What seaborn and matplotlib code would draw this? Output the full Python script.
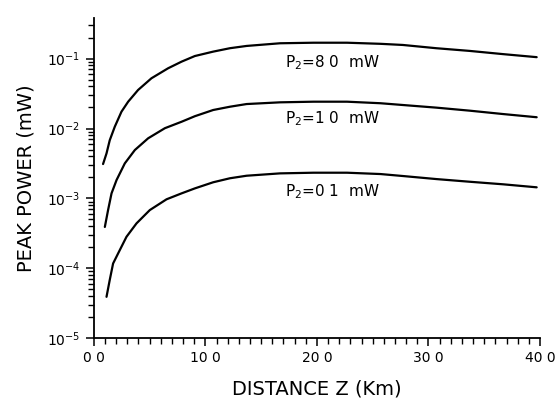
import numpy as np
import pandas as pd
import matplotlib
matplotlib.use("Agg")
import matplotlib.pyplot as plt
import seaborn as sns

# ---- data ----
z_80 = [0.83, 1.14, 1.43, 1.88, 2.48, 3.08, 3.97, 5.17, 6.66, 7.87, 9.06, 10.7,
        12.2, 13.7, 16.7, 19.7, 22.7, 25.7, 27.7, 30.7, 33.7, 36.7, 39.7]
p_80 = [3.1e-3, 4.4e-3, 6.8e-3, 1.06e-2, 1.74e-2, 2.42e-2, 3.56e-2, 5.24e-2, 7.28e-2,
        9.06e-2, 0.109, 0.126, 0.141, 0.152, 0.166, 0.169, 0.169, 0.163, 0.157,
        0.141, 0.129, 0.116, 0.105]

z_10 = [0.99, 1.28, 1.59, 2.04, 2.78, 3.68, 4.87, 6.37, 7.87, 9.06, 10.7, 12.2,
        13.7, 16.7, 19.7, 22.7, 25.7, 27.7, 30.7, 33.7, 36.7, 39.7]
p_10 = [3.9e-4, 6.8e-4, 1.18e-3, 1.83e-3, 3.17e-3, 4.92e-3, 7.24e-3, 1.01e-2, 1.25e-2,
        1.5e-2, 1.84e-2, 2.05e-2, 2.24e-2, 2.37e-2, 2.42e-2, 2.42e-2, 2.30e-2, 2.17e-2,
        1.99e-2, 1.80e-2, 1.61e-2, 1.45e-2]

z_01 = [1.14, 1.43, 1.73, 2.18, 2.93, 3.83, 5.02, 6.52, 7.87, 9.06, 10.7, 12.2,
        13.7, 16.7, 19.7, 22.7, 25.7, 27.7, 30.7, 33.7, 36.7, 39.7]
p_01 = [3.9e-5, 6.8e-5, 1.17e-4, 1.63e-4, 2.82e-4, 4.39e-4, 6.8e-4, 9.7e-4, 1.18e-3,
        1.39e-3, 1.70e-3, 1.94e-3, 2.11e-3, 2.28e-3, 2.33e-3, 2.33e-3, 2.23e-3, 2.09e-3,
        1.89e-3, 1.73e-3, 1.59e-3, 1.44e-3]

series_names = ["P$_2$=8 0  mW", "P$_2$=1 0  mW", "P$_2$=0 1  mW"]
label_x = [17.1, 17.1, 17.1]
label_y = [0.089, 0.0140, 1.23e-3]

x_ticks = [0, 10, 20, 30, 40]
x_ticklabels = ["0 0", "10 0", "20 0", "30 0", "40 0"]
y_ticks = [1e-5, 1e-4, 1e-3, 1e-2, 1e-1]
y_ticklabels = ["$10^{-5}$", "$10^{-4}$", "$10^{-3}$", "$10^{-2}$", "$10^{-1}$"]

df = pd.concat([
    pd.DataFrame({"z": z_80, "p": p_80, "s": series_names[0]}),
    pd.DataFrame({"z": z_10, "p": p_10, "s": series_names[1]}),
    pd.DataFrame({"z": z_01, "p": p_01, "s": series_names[2]}),
])

sns.set_style("ticks")
plt.rcParams["font.family"] = ["DejaVu Sans"]
plt.rcParams["mathtext.fontset"] = "dejavusans"
plt.rcParams["text.color"] = "black"
plt.rcParams["axes.labelcolor"] = "black"

fig = plt.figure(figsize=(5.55, 4.03), dpi=100)
ax = fig.add_axes([0.169, 0.161, 0.804, 0.794])

sns.lineplot(data=df, x="z", y="p", hue="s", palette=["black"] * 3,
             legend=False, linewidth=1.6, sort=False, estimator=None, ax=ax)

ax.set_yscale("log")
ax.set_xlim(0, 40)
ax.set_ylim(1e-5, 0.38)

ax.set_xticks(x_ticks)
ax.set_xticklabels(x_ticklabels, fontsize=10)
ax.set_xticks(np.arange(0, 41, 1), minor=True)
ax.set_yticks(y_ticks)
ax.set_yticklabels(y_ticklabels, fontsize=10)
ax.yaxis.set_minor_locator(matplotlib.ticker.LogLocator(base=10, subs=np.arange(2, 10), numticks=20))
ax.yaxis.set_minor_formatter(matplotlib.ticker.NullFormatter())

ax.tick_params(axis="both", which="major", length=6, width=1.1, direction="out",
               colors="black", labelcolor="black")
ax.tick_params(axis="both", which="minor", length=4, width=1.0, direction="out", colors="black")

for sp in ["top", "right"]:
    ax.spines[sp].set_visible(False)
for sp in ["left", "bottom"]:
    ax.spines[sp].set_linewidth(1.3)
    ax.spines[sp].set_color("black")

ax.set_xlabel("DISTANCE Z (Km)", fontsize=14, labelpad=10, color="black")
ax.set_ylabel("PEAK POWER (mW)", fontsize=14, labelpad=8, color="black")

for name, lx, ly in zip(series_names, label_x, label_y):
    ax.text(lx, ly, name, fontsize=11, ha="left", va="center", color="black")

fig.savefig("out.png", dpi=100, facecolor="white")
